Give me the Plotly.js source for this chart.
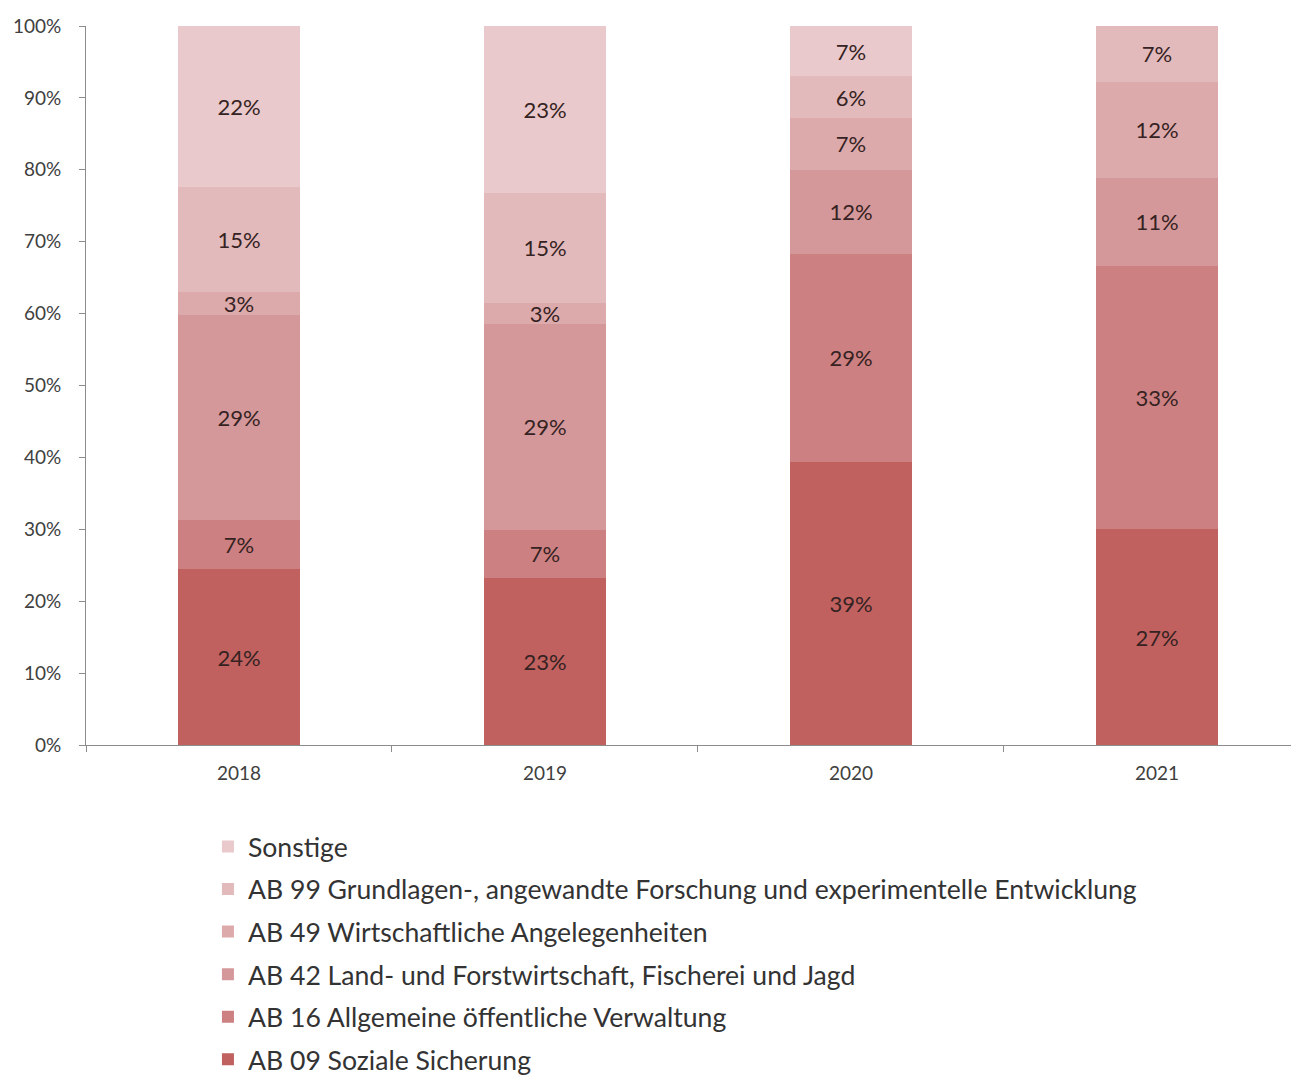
<!DOCTYPE html>
<html>
<head>
<meta charset="utf-8">
<script src="https://cdn.plot.ly/plotly-3.0.1.min.js"></script>
<style>html,body{margin:0;padding:0;background:#fff;}#chart{width:1291px;height:1075px;}</style>
</head>
<body>
<div id="chart"></div>
<script>
const years = ['2018', '2019', '2020', '2021'];
const seriesNames = [
  'AB 09 Soziale Sicherung',
  'AB 16 Allgemeine öffentliche Verwaltung',
  'AB 42 Land- und Forstwirtschaft, Fischerei und Jagd',
  'AB 49 Wirtschaftliche Angelegenheiten',
  'AB 99 Grundlagen-, angewandte Forschung und experimentelle Entwicklung',
  'Sonstige'
];
const ab09 = [24.4, 23.2, 39.4, 27];
const ab16 = [6.8, 6.8, 28.9, 33];
const ab42 = [28.5, 28.6, 11.7, 11];
const ab49 = [3.2, 2.9, 7.2, 12];
const ab99 = [14.5, 15.4, 5.8, 7];
const sonstige = [22.4, 23.2, 7.0, 0];
const seriesValues = [ab09, ab16, ab42, ab49, ab99, sonstige];
const yTickVals = [0, 10, 20, 30, 40, 50, 60, 70, 80, 90, 100];
const yTickText = yTickVals.map(v => v + '%');
const colors = ['#C0615F', '#CD8081', '#D5989A', '#DDAAAC', '#E3BABC', '#E9C9CB'];

const fontFam = 'Lato, "Open Sans", sans-serif';
const traces = seriesNames.map((name, i) => ({
  type: 'bar',
  name: name,
  x: years,
  y: seriesValues[i],
  text: seriesValues[i].map(v => v ? Math.round(v) + '%' : ''),
  textposition: 'inside',
  insidetextanchor: 'middle',
  textangle: 0,
  constraintext: 'none',
  textfont: {family: fontFam, size: 22, color: '#352222'},
  marker: {color: colors[i], line: {width: 0}},
  legendgroup: 'g' + i,
  legendrank: seriesNames.length - i,
  hoverinfo: 'skip'
}));

const layout = {
  width: 1291, height: 1075,
  paper_bgcolor: '#ffffff', plot_bgcolor: '#ffffff',
  barmode: 'stack',
  barnorm: 'percent',
  bargap: 0.6,
  margin: {l: 86, r: 0, t: 26, b: 330, autoexpand: false},
  font: {family: fontFam, size: 19, color: '#404040'},
  xaxis: {
    type: 'category',
    range: [-0.5, 3.438],
    showline: true, linecolor: '#8c8c8c', linewidth: 1,
    ticks: 'outside', tickson: 'boundaries', ticklen: 6, tickcolor: '#8c8c8c',
    ticklabelstandoff: 11,
    showgrid: false, zeroline: false,
    tickfont: {family: fontFam, size: 19, color: '#404040'}
  },
  yaxis: {
    range: [0, 100],
    tickmode: 'array',
    tickvals: yTickVals,
    ticktext: yTickText,
    showline: true, linecolor: '#8c8c8c', linewidth: 1,
    ticks: 'outside', ticklen: 6, tickcolor: '#8c8c8c',
    ticklabelstandoff: 14,
    showgrid: false, zeroline: false,
    tickfont: {family: fontFam, size: 19, color: '#404040'}
  },
  showlegend: true,
  legend: {
    orientation: 'v',
    xref: 'paper', yref: 'paper',
    x: 0.1012, y: -0.108,
    xanchor: 'left', yanchor: 'top',
    traceorder: 'grouped',
    tracegroupgap: 5,
    font: {family: fontFam, size: 26.6, color: '#333333'},
    bgcolor: 'rgba(0,0,0,0)'
  }
};

Plotly.newPlot('chart', traces, layout, {displayModeBar: false, staticPlot: true});
</script>
</body>
</html>
